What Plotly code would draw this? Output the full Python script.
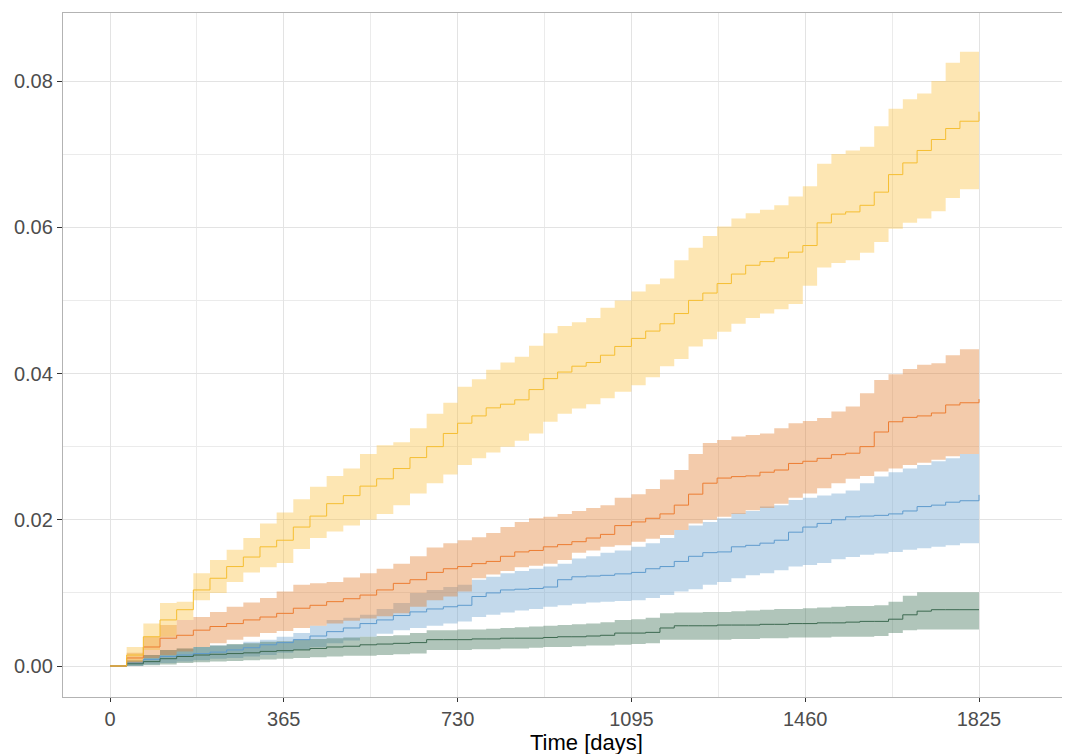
import plotly.graph_objects as go

# ---- data ----
days = [0, 35, 70, 105, 140, 175, 210, 245, 280, 315, 350, 385, 420, 455, 490, 525, 560, 595,
        630, 665, 700, 730, 760, 790, 820, 850, 880, 910, 940, 970, 1000, 1030, 1060, 1095,
        1125, 1155, 1185, 1215, 1245, 1275, 1305, 1335, 1365, 1395, 1425, 1455, 1485, 1515,
        1545, 1575, 1605, 1635, 1665, 1695, 1725, 1755, 1785, 1825]

yellow_est = [0, 0.0015, 0.0040, 0.0063, 0.0077, 0.0104, 0.0120, 0.0136, 0.0149, 0.0163, 0.0172,
              0.0190, 0.0205, 0.0222, 0.0233, 0.0246, 0.0256, 0.0270, 0.0285, 0.0300, 0.0318,
              0.0332, 0.0342, 0.0353, 0.0358, 0.0364, 0.0378, 0.0393, 0.0402, 0.0410, 0.0415,
              0.0425, 0.0437, 0.0448, 0.0458, 0.0468, 0.0482, 0.0500, 0.0510, 0.0523, 0.0536,
              0.0548, 0.0553, 0.0558, 0.0566, 0.0575, 0.0606, 0.0618, 0.0621, 0.0630, 0.0648,
              0.0672, 0.0688, 0.0705, 0.0720, 0.0735, 0.0745, 0.0758]
yellow_hi = [0, 0.0026, 0.0058, 0.0086, 0.0088, 0.0127, 0.0145, 0.0159, 0.0175, 0.0195, 0.0210,
             0.0228, 0.0245, 0.0260, 0.0270, 0.0290, 0.0302, 0.0306, 0.0325, 0.0345, 0.0360,
             0.0382, 0.0392, 0.0405, 0.0415, 0.0423, 0.0438, 0.0455, 0.0465, 0.0470, 0.0476,
             0.0490, 0.0500, 0.0512, 0.0522, 0.0530, 0.0555, 0.0572, 0.0588, 0.0601, 0.0612,
             0.0619, 0.0624, 0.0630, 0.0642, 0.0656, 0.0687, 0.0700, 0.0705, 0.0710, 0.0738,
             0.0762, 0.0775, 0.0783, 0.0800, 0.0825, 0.0840, 0.0851]
yellow_lo = [0, 0.0006, 0.0022, 0.0040, 0.0063, 0.0090, 0.0100, 0.0115, 0.0128, 0.0135, 0.0141,
             0.0160, 0.0175, 0.0184, 0.0192, 0.0200, 0.0208, 0.0220, 0.0236, 0.0250, 0.0262,
             0.0275, 0.0284, 0.0292, 0.0300, 0.0308, 0.0318, 0.0334, 0.0345, 0.0352, 0.0358,
             0.0366, 0.0375, 0.0384, 0.0395, 0.0410, 0.0420, 0.0437, 0.0447, 0.0457, 0.0468,
             0.0476, 0.0482, 0.0488, 0.0495, 0.0520, 0.0545, 0.0551, 0.0555, 0.0565, 0.0580,
             0.0598, 0.0606, 0.0612, 0.0622, 0.0640, 0.0652, 0.0662]

orange_est = [0, 0.0011, 0.0026, 0.0038, 0.0042, 0.0049, 0.0054, 0.0058, 0.0063, 0.0067, 0.0072,
              0.0079, 0.0083, 0.0088, 0.0092, 0.0097, 0.0104, 0.0113, 0.0118, 0.0128, 0.0133,
              0.0136, 0.0140, 0.0143, 0.0150, 0.0156, 0.0158, 0.0163, 0.0166, 0.0170, 0.0175,
              0.0180, 0.0192, 0.0197, 0.0202, 0.0208, 0.0220, 0.0235, 0.0250, 0.0257, 0.0259,
              0.0260, 0.0265, 0.0268, 0.0277, 0.0280, 0.0284, 0.0289, 0.0291, 0.0300, 0.0320,
              0.0334, 0.0340, 0.0342, 0.0346, 0.0357, 0.0360, 0.0365]
orange_hi = [0, 0.0018, 0.0040, 0.0056, 0.0063, 0.0067, 0.0074, 0.0081, 0.0087, 0.0093, 0.0102,
             0.0111, 0.0113, 0.0115, 0.0121, 0.0127, 0.0133, 0.0140, 0.0150, 0.0162, 0.0168,
             0.0172, 0.0176, 0.0182, 0.0190, 0.0197, 0.0202, 0.0204, 0.0208, 0.0212, 0.0216,
             0.0220, 0.0230, 0.0235, 0.0242, 0.0255, 0.0268, 0.0290, 0.0305, 0.0309, 0.0314,
             0.0316, 0.0318, 0.0325, 0.0332, 0.0335, 0.0339, 0.0348, 0.0355, 0.0373, 0.0391,
             0.0399, 0.0406, 0.0412, 0.0414, 0.0425, 0.0433, 0.0433]
orange_lo = [0, 0.0004, 0.0011, 0.0015, 0.0020, 0.0026, 0.0031, 0.0036, 0.0040, 0.0045, 0.0048,
             0.0052, 0.0055, 0.0058, 0.0062, 0.0065, 0.0068, 0.0072, 0.0081, 0.0090, 0.0095,
             0.0102, 0.0120, 0.0125, 0.0130, 0.0135, 0.0137, 0.0140, 0.0145, 0.0155, 0.0158,
             0.0163, 0.0165, 0.0170, 0.0174, 0.0179, 0.0186, 0.0195, 0.0200, 0.0204, 0.0208,
             0.0213, 0.0216, 0.0222, 0.0230, 0.0236, 0.0243, 0.0250, 0.0256, 0.0260, 0.0266,
             0.0270, 0.0275, 0.0278, 0.0282, 0.0287, 0.0290, 0.0295]

blue_est = [0, 0.0004, 0.0009, 0.0013, 0.0015, 0.0017, 0.0019, 0.0022, 0.0025, 0.0029, 0.0032,
            0.0036, 0.0041, 0.0047, 0.0052, 0.0058, 0.0063, 0.0069, 0.0074, 0.0078, 0.0081,
            0.0083, 0.0095, 0.0100, 0.0104, 0.0105, 0.0106, 0.0108, 0.0118, 0.0122, 0.0123,
            0.0124, 0.0126, 0.0128, 0.0133, 0.0136, 0.0143, 0.0150, 0.0155, 0.0156, 0.0163,
            0.0165, 0.0168, 0.0172, 0.0183, 0.0190, 0.0195, 0.0200, 0.0204, 0.0205, 0.0206,
            0.0208, 0.0212, 0.0218, 0.0220, 0.0224, 0.0226, 0.0234]
blue_hi = [0, 0.0008, 0.0015, 0.0022, 0.0024, 0.0026, 0.0028, 0.0029, 0.0033, 0.0036, 0.0040,
           0.0045, 0.0055, 0.0063, 0.0066, 0.0070, 0.0078, 0.0086, 0.0100, 0.0104, 0.0108,
           0.0111, 0.0118, 0.0122, 0.0127, 0.0130, 0.0133, 0.0136, 0.0140, 0.0147, 0.0150,
           0.0155, 0.0158, 0.0163, 0.0168, 0.0175, 0.0186, 0.0192, 0.0197, 0.0202, 0.0209,
           0.0212, 0.0218, 0.0220, 0.0227, 0.0230, 0.0233, 0.0236, 0.0240, 0.0250, 0.0259,
           0.0265, 0.0270, 0.0275, 0.0280, 0.0284, 0.0290, 0.0295]
blue_lo = [0, 0.0000, 0.0002, 0.0004, 0.0006, 0.0008, 0.0010, 0.0011, 0.0013, 0.0015, 0.0018,
           0.0022, 0.0026, 0.0031, 0.0035, 0.0040, 0.0044, 0.0049, 0.0052, 0.0055, 0.0058,
           0.0061, 0.0067, 0.0070, 0.0073, 0.0076, 0.0078, 0.0081, 0.0083, 0.0085, 0.0087,
           0.0088, 0.0089, 0.0090, 0.0093, 0.0097, 0.0102, 0.0105, 0.0111, 0.0115, 0.0120,
           0.0124, 0.0127, 0.0131, 0.0136, 0.0138, 0.0141, 0.0146, 0.0149, 0.0152, 0.0154,
           0.0156, 0.0159, 0.0161, 0.0163, 0.0165, 0.0168, 0.0172]

green_est = [0, 0.0003, 0.0006, 0.0010, 0.0013, 0.0015, 0.0016, 0.0017, 0.0018, 0.0020, 0.0021,
             0.0022, 0.0024, 0.0026, 0.0027, 0.0029, 0.0030, 0.0031, 0.0032, 0.0036, 0.0036,
             0.0036, 0.0037, 0.0037, 0.0038, 0.0038, 0.0038, 0.0039, 0.0040, 0.0040, 0.0041,
             0.0042, 0.0045, 0.0045, 0.0046, 0.0052, 0.0055, 0.0055, 0.0055, 0.0056, 0.0056,
             0.0056, 0.0057, 0.0057, 0.0058, 0.0058, 0.0059, 0.0059, 0.0060, 0.0061, 0.0061,
             0.0064, 0.0070, 0.0075, 0.0077, 0.0077, 0.0077, 0.0077]
green_hi = [0, 0.0008, 0.0015, 0.0022, 0.0024, 0.0026, 0.0028, 0.0030, 0.0031, 0.0033, 0.0034,
            0.0036, 0.0037, 0.0038, 0.0039, 0.0040, 0.0041, 0.0042, 0.0045, 0.0049, 0.0049,
            0.0050, 0.0050, 0.0051, 0.0052, 0.0053, 0.0054, 0.0055, 0.0056, 0.0057, 0.0058,
            0.0060, 0.0063, 0.0064, 0.0066, 0.0072, 0.0073, 0.0073, 0.0074, 0.0074, 0.0075,
            0.0076, 0.0077, 0.0078, 0.0078, 0.0079, 0.0080, 0.0081, 0.0082, 0.0082, 0.0083,
            0.0088, 0.0096, 0.0101, 0.0101, 0.0101, 0.0101, 0.0101]
green_lo = [0, 0.0000, 0.0001, 0.0002, 0.0004, 0.0005, 0.0006, 0.0007, 0.0008, 0.0009, 0.0010,
            0.0011, 0.0012, 0.0013, 0.0014, 0.0014, 0.0015, 0.0016, 0.0017, 0.0022, 0.0022,
            0.0022, 0.0023, 0.0023, 0.0024, 0.0024, 0.0025, 0.0026, 0.0026, 0.0027, 0.0028,
            0.0028, 0.0029, 0.0030, 0.0031, 0.0036, 0.0036, 0.0036, 0.0036, 0.0036, 0.0037,
            0.0037, 0.0038, 0.0038, 0.0039, 0.0039, 0.0039, 0.0040, 0.0040, 0.0040, 0.0041,
            0.0045, 0.0049, 0.0050, 0.0050, 0.0050, 0.0050, 0.0050]

x_ticks = [0, 365, 730, 1095, 1460, 1825]
x_minor = [182.5, 547.5, 912.5, 1277.5, 1642.5, 2007.5]
y_ticks = [0.00, 0.02, 0.04, 0.06, 0.08]
y_minor = [0.01, 0.03, 0.05, 0.07]
x_title = "Time [days]"

# ---- styling ----
groups = [
    ("blue", blue_est, blue_lo, blue_hi, (105, 160, 205)),
    ("green", green_est, green_lo, green_hi, (57, 110, 82)),
    ("orange", orange_est, orange_lo, orange_hi, (225, 125, 45)),
    ("yellow", yellow_est, yellow_lo, yellow_hi, (250, 192, 65)),
]
line_colors = {"blue": "rgb(95,155,205)", "green": "rgb(60,105,80)",
               "orange": "rgb(236,125,50)", "yellow": "rgb(245,190,50)"}

fig = go.Figure()
for name, est, lo, hi, (r, g, b) in groups:
    fig.add_trace(go.Scatter(x=days, y=lo, mode="lines", line=dict(width=0, shape="hv"),
                             hoverinfo="skip", showlegend=False))
    fig.add_trace(go.Scatter(x=days, y=hi, mode="lines", line=dict(width=0, shape="hv"),
                             fill="tonexty", fillcolor=f"rgba({r},{g},{b},0.4)",
                             hoverinfo="skip", showlegend=False))
for name, est, lo, hi, (r, g, b) in groups:
    fig.add_trace(go.Scatter(x=days, y=est, mode="lines", name=name,
                             line=dict(width=1, shape="hv", color=line_colors[name]),
                             showlegend=False))

# page body adds an 8px offset; the plot area is placed so that on screen it spans
# x 63..1070 and y 13..697
OFF = 8
W, H = 1070 - OFF, 754 - OFF
px_per_day = (979 - 110) / 1825
x_left = (63 - 110) / px_per_day
x_right = (1070 - 110) / px_per_day
px_per_unit = (666 - 81) / 0.08
y_bottom = -(697 - 666) / px_per_unit
y_top = (666 - 13) / px_per_unit

font_fam = "Liberation Sans, Arial, sans-serif"
fig.update_layout(
    width=W, height=H,
    margin=dict(l=63 - OFF, r=0, t=13 - OFF, b=H - (697 - OFF)),
    plot_bgcolor="white", paper_bgcolor="white",
    font=dict(family=font_fam, color="#4D4D4D", size=20),
    xaxis=dict(range=[x_left, x_right], tickmode="array", tickvals=x_ticks,
               ticktext=[str(v) for v in x_ticks],
               showgrid=True, gridcolor="#E3E3E3", gridwidth=1, zeroline=False,
               showline=True, linecolor="#B3B3B3", linewidth=1.3, mirror=True,
               ticks="outside", ticklen=4, tickcolor="#333333", tickwidth=1,
               tickfont=dict(size=20, color="#4D4D4D"),
               minor=dict(tickmode="array", tickvals=x_minor, showgrid=True,
                          gridcolor="#EBEBEB", gridwidth=1, ticks="")),
    yaxis=dict(range=[y_bottom, y_top], tickmode="array", tickvals=y_ticks,
               ticktext=[f"{v:.2f}" for v in y_ticks],
               showgrid=True, gridcolor="#E3E3E3", gridwidth=1, zeroline=False,
               showline=True, linecolor="#B3B3B3", linewidth=1.3, mirror=False,
               ticks="outside", ticklen=5, tickcolor="#333333", tickwidth=1,
               tickfont=dict(size=20, color="#4D4D4D"),
               minor=dict(tickmode="array", tickvals=y_minor, showgrid=True,
                          gridcolor="#EBEBEB", gridwidth=1, ticks="")),
    annotations=[dict(text=x_title, xref="paper", yref="paper",
                      x=(586 - 63) / 1007, y=(697 - 743) / 684,
                      xanchor="center", yanchor="middle", showarrow=False,
                      font=dict(size=22, color="black", family=font_fam))],
)

fig.write_html("out.html")
